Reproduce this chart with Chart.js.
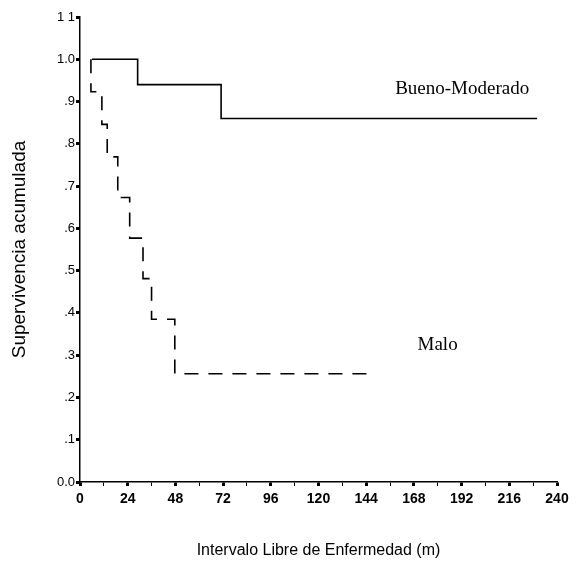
<!DOCTYPE html>
<html>
<head>
<meta charset="utf-8">
<script src="https://cdn.jsdelivr.net/npm/chart.js@4"></script>
<style>
  html, body { margin: 0; padding: 0; background: #fff; }
</style>
</head>
<body>
<canvas id="grafico" width="579" height="565"></canvas>
<script>
// datos
const mesesBueno = [6, 29, 71, 230];
const supBueno = [1.0, 0.94, 0.86, 0.86];
const mesesMalo = [5.5, 5.5, 11, 13.7, 19, 25, 31.7, 36, 47.7, 147];
const supMalo = [1.0, 0.923, 0.846, 0.769, 0.673, 0.577, 0.481, 0.385, 0.256, 0.256];

const ticksX = [0, 24, 48, 72, 96, 120, 144, 168, 192, 216, 240];
const etiquetasX = ["0", "24", "48", "72", "96", "120", "144", "168", "192", "216", "240"];
const ticksY = [0, 0.1, 0.2, 0.3, 0.4, 0.5, 0.6, 0.7, 0.8, 0.9, 1.0, 1.1];
const etiquetasY = ["0.0", ".1", ".2", ".3", ".4", ".5", ".6", ".7", ".8", ".9", "1.0", "1 1"];

const nombresGrupos = ["Bueno-Moderado", "Malo"];

function puntos(xs, ys) {
  return xs.map((x, i) => ({ x: x, y: ys[i] }));
}

// etiquetas de los grupos sobre el grafico
const rotulos = {
  id: "rotulos",
  afterDatasetsDraw(chart) {
    const ctx = chart.ctx;
    const x = chart.scales.x;
    const y = chart.scales.y;
    ctx.save();
    ctx.fillStyle = "#000";
    ctx.font = '19px "Liberation Serif", serif';
    ctx.textAlign = "right";
    ctx.textBaseline = "middle";
    ctx.fillText(nombresGrupos[0], x.getPixelForValue(226), y.getPixelForValue(0.93));
    ctx.fillText(nombresGrupos[1], x.getPixelForValue(190), y.getPixelForValue(0.325));
    ctx.restore();
  }
};

// marcas del eje x: mayores cada 24, menores entre medio
function marcasX(s) {
  const lista = [];
  ticksX.forEach((v, i) => {
    lista.push({ value: v, label: etiquetasX[i] });
    if (i < ticksX.length - 1) lista.push({ value: v + 12, label: "" });
  });
  s.ticks = lista;
}

new Chart(document.getElementById("grafico"), {
  type: "line",
  data: {
    datasets: [
      {
        label: nombresGrupos[0],
        data: puntos(mesesBueno, supBueno),
        borderColor: "#000",
        borderWidth: 1.6,
        stepped: "before",
        pointRadius: 0,
        fill: false
      },
      {
        label: nombresGrupos[1],
        data: puntos(mesesMalo, supMalo),
        borderColor: "#000",
        borderWidth: 1.6,
        borderDash: [14, 10],
        stepped: "before",
        pointRadius: 0,
        fill: false
      }
    ]
  },
  options: {
    responsive: false,
    animation: false,
    layout: { padding: { left: 0, right: 22, top: 17, bottom: 0 } },
    plugins: {
      legend: { display: false },
      tooltip: { enabled: false }
    },
    scales: {
      x: {
        type: "linear",
        min: 0,
        max: 240,
        afterBuildTicks: marcasX,
        afterFit: s => { s.height = 83; },
        border: { display: true, color: "#000", width: 1.5 },
        grid: {
          drawOnChartArea: false,
          tickLength: 4,
          tickColor: "#000",
          tickWidth: c => (c.tick && c.tick.label === "" ? 1 : 3)
        },
        ticks: {
          autoSkip: false,
          maxRotation: 0,
          padding: 5,
          color: "#000",
          font: { family: '"Liberation Sans", Arial, sans-serif', size: 14, weight: "bold" },
          callback: function (v, i, t) { return t[i].label; }
        },
        title: {
          display: true,
          text: "Intervalo Libre de Enfermedad (m)",
          color: "#000",
          font: { family: '"Liberation Sans", Arial, sans-serif', size: 16 },
          padding: { top: 0, bottom: 5 }
        }
      },
      y: {
        min: 0,
        max: 1.1,
        afterBuildTicks: s => { s.ticks = ticksY.map(v => ({ value: v })); },
        afterFit: s => { s.width = 80; },
        border: { display: true, color: "#000", width: 1.5 },
        grid: {
          drawOnChartArea: false,
          tickLength: 4,
          tickColor: "#000",
          tickWidth: 3
        },
        ticks: {
          padding: 1,
          color: "#000",
          font: { family: '"Liberation Sans", Arial, sans-serif', size: 13 },
          callback: function (v, i) { return etiquetasY[i]; }
        },
        title: {
          display: true,
          text: "Supervivencia acumulada",
          color: "#000",
          font: { family: '"Liberation Sans", Arial, sans-serif', size: 19 },
          padding: { top: 8, bottom: 0 }
        }
      }
    }
  },
  plugins: [rotulos]
});
</script>
</body>
</html>
